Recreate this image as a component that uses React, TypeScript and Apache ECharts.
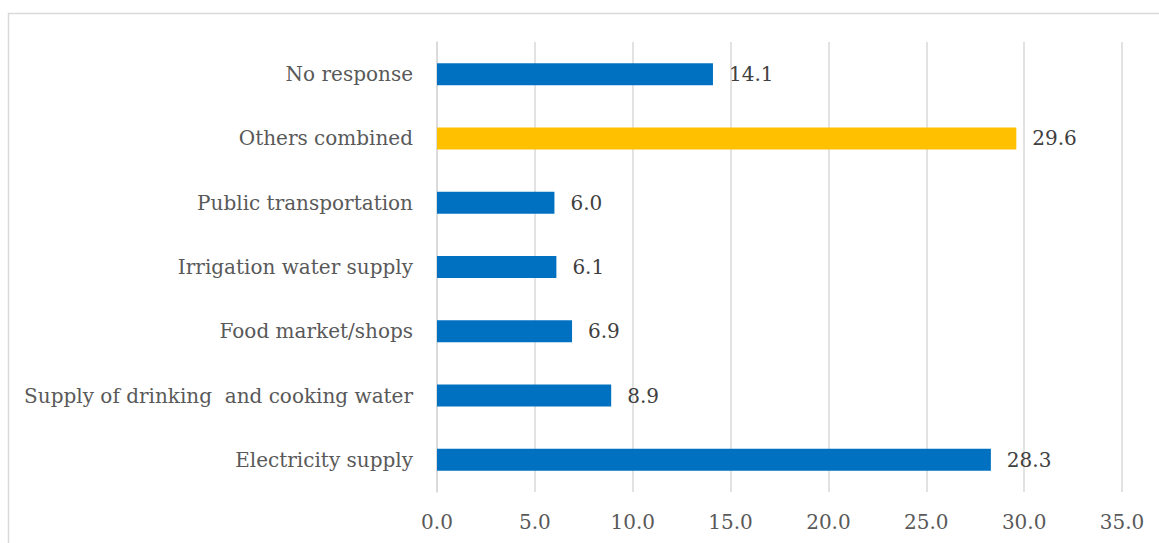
import React, { useEffect, useRef } from "react";
import * as echarts from "echarts";

const categories = [
  "Electricity supply",
  "Supply of drinking  and cooking water",
  "Food market/shops",
  "Irrigation water supply",
  "Public transportation",
  "Others combined",
  "No response",
];
const values = [28.3, 8.9, 6.9, 6.1, 6.0, 29.6, 14.1];
const highlight = "Others combined";

export default function App() {
  const ref = useRef<HTMLDivElement>(null);
  useEffect(() => {
    if (!ref.current) return;
    const chart = echarts.init(ref.current, null, { renderer: "svg" });
    const font = "DejaVu Serif";
    chart.setOption({
      animation: false,
      graphic: [
        {
          type: "rect",
          shape: { x: 8.5, y: 13.5, width: 1300, height: 700 },
          style: { fill: "none", stroke: "#d9d9d9", lineWidth: 1.5 },
          silent: true,
        },
      ],
      grid: { left: 437, right: 37, top: 42, bottom: 51 },
      xAxis: {
        type: "value",
        min: 0,
        max: 35,
        interval: 5,
        axisLine: { show: false },
        axisTick: { show: false },
        splitLine: { lineStyle: { color: "#d9d9d9", width: 1.5 } },
        axisLabel: {
          formatter: (v: number) => v.toFixed(1),
          color: "#595959",
          fontFamily: font,
          fontSize: 20,
          margin: 20,
        },
      },
      yAxis: {
        type: "category",
        data: categories,
        axisLine: { show: true, lineStyle: { color: "#d9d9d9", width: 1.5 } },
        axisTick: { show: false },
        axisLabel: {
          color: "#595959",
          fontFamily: font,
          fontSize: 20,
          margin: 24,
        },
      },
      series: [
        {
          type: "bar",
          barWidth: 22,
          data: values.map((v, i) => ({
            value: v,
            itemStyle: { color: categories[i] === highlight ? "#FFC000" : "#0070C0" },
          })),
          label: {
            show: true,
            position: "right",
            distance: 16,
            formatter: (p: any) => Number(p.value).toFixed(1),
            color: "#404040",
            fontFamily: font,
            fontSize: 20,
          },
        },
      ],
    });
    return () => chart.dispose();
  }, []);
  return (
    <div
      ref={ref}
      style={{ position: "fixed", left: 0, top: 0, width: 1159, height: 543, background: "#fff" }}
    />
  );
}
